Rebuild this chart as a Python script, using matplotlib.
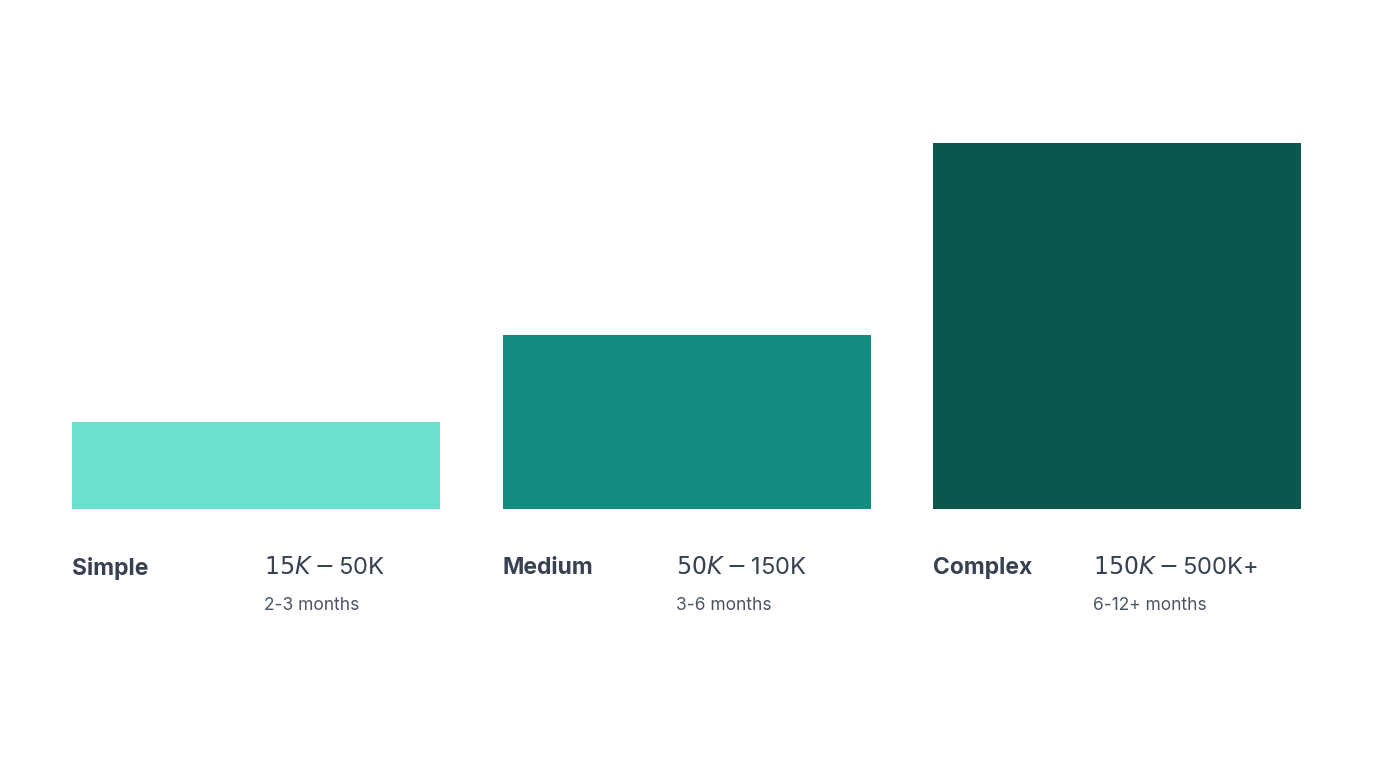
import matplotlib
matplotlib.use("Agg")
import matplotlib.pyplot as plt

# ── Data ────────────────────────────────────────────────────────────────
tiers = ["Simple", "Medium", "Complex"]
relative_cost = [1.0, 2.0, 4.2]
price_ranges = ["$15K-$50K", "$50K-$150K", "$150K-$500K+"]
durations = ["2-3 months", "3-6 months", "6-12+ months"]

colors = ["#6be0cd", "#128b81", "#0a574d"]
price_x_px = [264, 676, 1093]   # where the price column starts, in pixels

W, H = 1376, 768
fig = plt.figure(figsize=(W / 100, H / 100), dpi=100)
fig.patch.set_facecolor("white")

# axes spanning the bar block (pixels 72..1301, bottom at 509, top at 143)
ax = fig.add_axes([72 / W, 1 - 509 / H, 1229 / W, (509 - 143) / H])
bar_w = 368 / 430.5
xs = list(range(len(tiers)))
ax.bar(xs, relative_cost, width=bar_w, color=colors)
ax.set_xlim(-bar_w / 2, xs[-1] + bar_w / 2)
ax.set_ylim(0, max(relative_cost))
ax.axis("off")

for i, tier in enumerate(tiers):
    left_px = 72 + i * 430.5
    fig.text(left_px / W, 1 - 568 / H, tier, fontsize=16.5, fontweight="bold",
             color="#374151", va="center", ha="left", family="Inter")
    fig.text(price_x_px[i] / W, 1 - 568 / H, price_ranges[i], fontsize=17,
             color="#374151", va="center", ha="left", family="Inter")
    fig.text(price_x_px[i] / W, 1 - 606 / H, durations[i], fontsize=12.5,
             color="#4b5563", va="center", ha="left", family="Inter")

fig.savefig("out.png", dpi=100)
